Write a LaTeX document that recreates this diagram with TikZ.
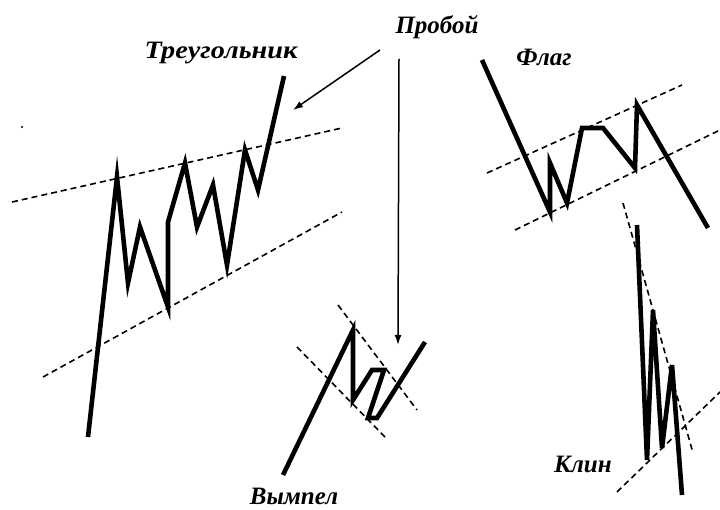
\documentclass[tikz,border=0pt]{standalone}
\usepackage{fontspec}
\setmainfont{Liberation Serif}
\usetikzlibrary{arrows.meta}

\begin{document}
\begin{tikzpicture}[
        x=1pt, y=-1pt,
        price/.style={line width=4.6pt, line join=miter},
        trend/.style={line width=1.6pt, dash pattern=on 6pt off 4pt},
        lbl/.style={font=\fontsize{25}{25}\selectfont\bfseries\itshape, inner sep=0pt},
        brk/.style={line width=1.5pt, -{Latex[length=10pt, width=7pt]}}
    ]
      \useasboundingbox (0,0) rectangle (720,510);

      % --- Labels ---
      \node[lbl] (tri) at (221,53) {\scalebox{1.13}[1]{Треугольник}};
      \node[lbl] (brkout) at (437,27) {Пробой};
      \node[lbl] (flag) at (544,57) {Флаг};
      \node[lbl] (wedge) at (583,464) {Клин};
      \node[lbl] (pennant) at (294,496) {Вымпел};

      % --- Triangle ---
      \draw[trend] (12,202) -- (342,128);
      \draw[trend] (43,377) -- (342,212);
      \draw[price] (88,437) -- (117,177) -- (128,283) -- (140,227) -- (168,307)
                   -- (168,222) -- (185,163) -- (197,227) -- (213,185) -- (227,265)
                   -- (245,150) -- (258,190) -- (284,76);
      \fill (22,127) circle (1.1pt);

      % --- Pennant ---
      \draw[trend] (338,305) -- (417,410);
      \draw[trend] (297,347) -- (385,437);
      \draw[price] (283,475) -- (353,330) -- (353,400) -- (372,370) -- (384,370)
                   -- (368,418) -- (377,418) -- (425,342);

      % --- Flag ---
      \draw[trend] (487,173) -- (682,85);
      \draw[trend] (515,230) -- (720,130);
      \draw[price] (482,60) -- (550,212) -- (550,163) -- (567,203) -- (582,128)
                   -- (603,128) -- (635,168) -- (637,105) -- (708,228);

      % --- Wedge ---
      \draw[trend] (623,203) -- (693,453);
      \draw[trend] (617,492) -- (720,392);
      \draw[price] (637,225) -- (647,460) -- (653,310) -- (662,448) -- (672,365)
                   -- (682,495);

      % --- Breakout arrows ---
      \coordinate (triHit) at (293,110);
      \coordinate (penHit) at (398,345);
      \draw[brk] (380,50) -- (triHit);
      \draw[brk] (399,59) -- (penHit);
    \end{tikzpicture}
\end{document}
